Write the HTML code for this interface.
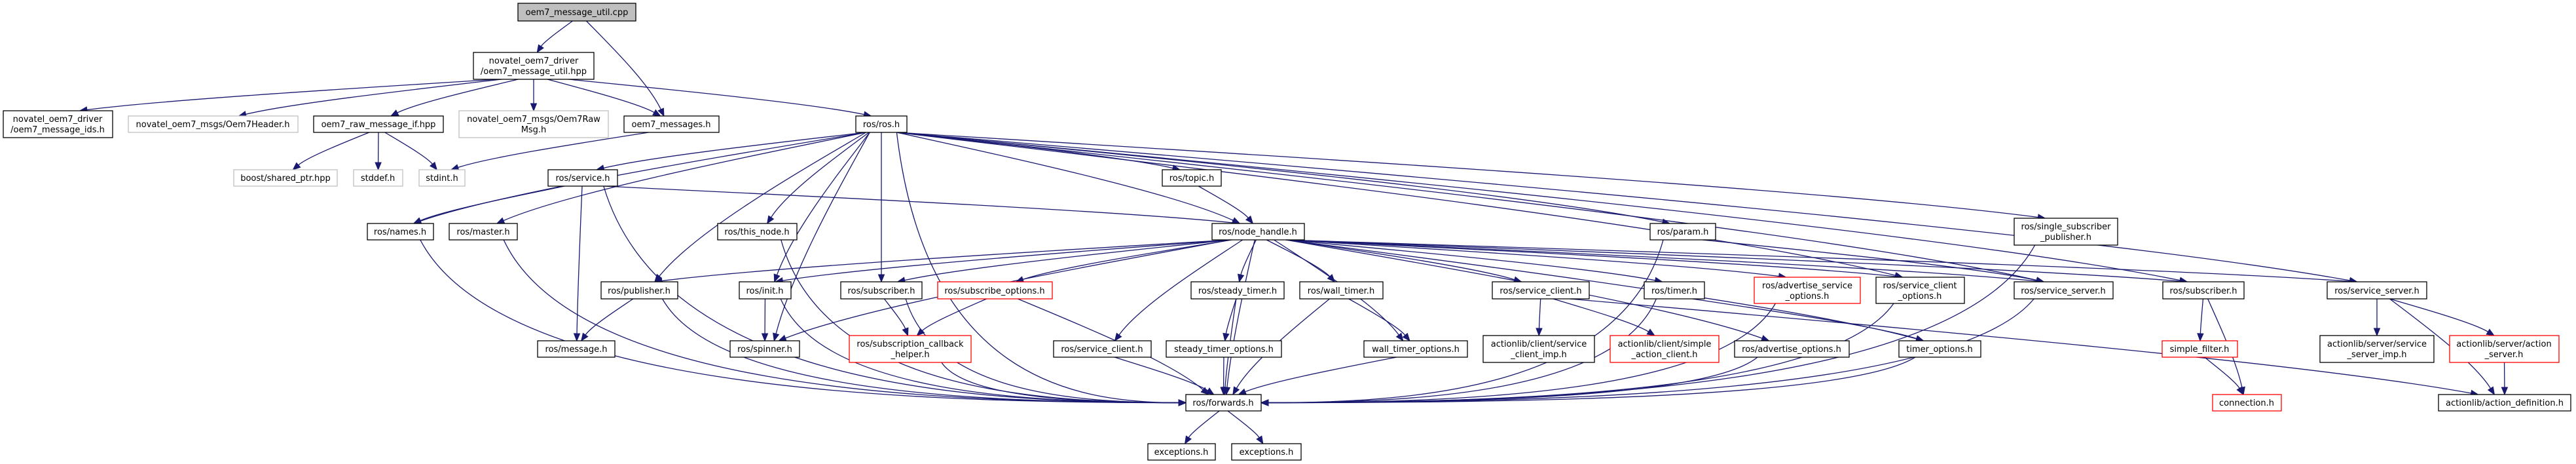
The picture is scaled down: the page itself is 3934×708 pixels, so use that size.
<!DOCTYPE html>
<html><head><meta charset="utf-8"><style>
html,body{margin:0;padding:0;background:#fff;}
svg{display:block}
text{font-family:"DejaVu Sans","Liberation Sans",sans-serif;font-size:13px;fill:#000;text-anchor:middle}
</style></head><body>
<svg id="g" xmlns="http://www.w3.org/2000/svg" width="3934" height="708" viewBox="0 0 3934 708">
<g id="edges" fill="none" stroke="#191970" stroke-width="1.3"></g>
<g id="arrows" fill="#191970" stroke="#191970"></g>
<g id="nodes" stroke-width="1.3">
<rect x="791" y="5" width="180" height="27" fill="#bfbfbf" stroke="#000"/><text x="881" y="23">oem7_message_util.cpp</text>
<rect x="723" y="80" width="184" height="41" fill="#fff" stroke="#000"/><text x="815" y="97">novatel_oem7_driver</text><text x="815" y="113">/oem7_message_util.hpp</text>
<rect x="5" y="169" width="167" height="41" fill="#fff" stroke="#000"/><text x="88" y="186">novatel_oem7_driver</text><text x="88" y="202">/oem7_message_ids.h</text>
<rect x="196" y="177" width="259" height="25" fill="#fff" stroke="#bfbfbf"/><text x="325" y="194">novatel_oem7_msgs/Oem7Header.h</text>
<rect x="479" y="177" width="198" height="25" fill="#fff" stroke="#000"/><text x="578" y="194">oem7_raw_message_if.hpp</text>
<rect x="701" y="169" width="228" height="41" fill="#fff" stroke="#bfbfbf"/><text x="815" y="186">novatel_oem7_msgs/Oem7Raw</text><text x="815" y="202">Msg.h</text>
<rect x="953" y="177" width="145" height="25" fill="#fff" stroke="#000"/><text x="1025" y="194">oem7_messages.h</text>
<rect x="1307" y="177" width="78" height="25" fill="#fff" stroke="#000"/><text x="1346" y="194">ros/ros.h</text>
<rect x="357" y="259" width="158" height="25" fill="#fff" stroke="#bfbfbf"/><text x="436" y="276">boost/shared_ptr.hpp</text>
<rect x="540" y="259" width="75" height="25" fill="#fff" stroke="#bfbfbf"/><text x="577" y="276">stddef.h</text>
<rect x="640" y="259" width="70" height="25" fill="#fff" stroke="#bfbfbf"/><text x="675" y="276">stdint.h</text>
<rect x="837" y="259" width="106" height="25" fill="#fff" stroke="#000"/><text x="890" y="276">ros/service.h</text>
<rect x="1775" y="259" width="90" height="25" fill="#fff" stroke="#000"/><text x="1820" y="276">ros/topic.h</text>
<rect x="561" y="341" width="101" height="25" fill="#fff" stroke="#000"/><text x="611" y="358">ros/names.h</text>
<rect x="686" y="341" width="104" height="25" fill="#fff" stroke="#000"/><text x="738" y="358">ros/master.h</text>
<rect x="1096" y="341" width="121" height="25" fill="#fff" stroke="#000"/><text x="1156" y="358">ros/this_node.h</text>
<rect x="1851" y="341" width="141" height="25" fill="#fff" stroke="#000"/><text x="1921" y="358">ros/node_handle.h</text>
<rect x="2520" y="341" width="100" height="25" fill="#fff" stroke="#000"/><text x="2570" y="358">ros/param.h</text>
<rect x="3076" y="333" width="158" height="41" fill="#fff" stroke="#000"/><text x="3155" y="350">ros/single_subscriber</text><text x="3155" y="366">_publisher.h</text>
<rect x="918" y="430" width="117" height="26" fill="#fff" stroke="#000"/><text x="976" y="448">ros/publisher.h</text>
<rect x="1129" y="430" width="79" height="26" fill="#fff" stroke="#000"/><text x="1168" y="448">ros/init.h</text>
<rect x="1284" y="430" width="124" height="26" fill="#fff" stroke="#000"/><text x="1346" y="448">ros/subscriber.h</text>
<rect x="1432" y="430" width="175" height="26" fill="#fff" stroke="#f00"/><text x="1519" y="448">ros/subscribe_options.h</text>
<rect x="1819" y="430" width="142" height="26" fill="#fff" stroke="#000"/><text x="1890" y="448">ros/steady_timer.h</text>
<rect x="1985" y="430" width="127" height="26" fill="#fff" stroke="#000"/><text x="2048" y="448">ros/wall_timer.h</text>
<rect x="2279" y="430" width="148" height="26" fill="#fff" stroke="#000"/><text x="2353" y="448">ros/service_client.h</text>
<rect x="2511" y="430" width="92" height="26" fill="#fff" stroke="#000"/><text x="2557" y="448">ros/timer.h</text>
<rect x="2679" y="423" width="162" height="40" fill="#fff" stroke="#f00"/><text x="2760" y="440">ros/advertise_service</text><text x="2760" y="456">_options.h</text>
<rect x="2865" y="423" width="135" height="40" fill="#fff" stroke="#000"/><text x="2932" y="440">ros/service_client</text><text x="2932" y="456">_options.h</text>
<rect x="3076" y="430" width="151" height="26" fill="#fff" stroke="#000"/><text x="3151" y="448">ros/service_server.h</text>
<rect x="3303" y="430" width="124" height="26" fill="#fff" stroke="#000"/><text x="3365" y="448">ros/subscriber.h</text>
<rect x="3554" y="430" width="152" height="26" fill="#fff" stroke="#000"/><text x="3630" y="448">ros/service_server.h</text>
<rect x="821" y="520" width="118" height="25" fill="#fff" stroke="#000"/><text x="880" y="537">ros/message.h</text>
<rect x="1115" y="520" width="106" height="25" fill="#fff" stroke="#000"/><text x="1168" y="537">ros/spinner.h</text>
<rect x="1297" y="512" width="186" height="41" fill="#fff" stroke="#f00"/><text x="1390" y="529">ros/subscription_callback</text><text x="1390" y="545">_helper.h</text>
<rect x="1609" y="520" width="149" height="25" fill="#fff" stroke="#000"/><text x="1683" y="537">ros/service_client.h</text>
<rect x="1781" y="520" width="176" height="25" fill="#fff" stroke="#000"/><text x="1869" y="537">steady_timer_options.h</text>
<rect x="2083" y="520" width="158" height="25" fill="#fff" stroke="#000"/><text x="2162" y="537">wall_timer_options.h</text>
<rect x="2265" y="512" width="170" height="41" fill="#fff" stroke="#000"/><text x="2350" y="529">actionlib/client/service</text><text x="2350" y="545">_client_imp.h</text>
<rect x="2459" y="512" width="166" height="41" fill="#fff" stroke="#f00"/><text x="2542" y="529">actionlib/client/simple</text><text x="2542" y="545">_action_client.h</text>
<rect x="2649" y="520" width="175" height="25" fill="#fff" stroke="#000"/><text x="2736" y="537">ros/advertise_options.h</text>
<rect x="2900" y="520" width="125" height="25" fill="#fff" stroke="#000"/><text x="2962" y="537">timer_options.h</text>
<rect x="3302" y="520" width="115" height="25" fill="#fff" stroke="#f00"/><text x="3359" y="537">simple_filter.h</text>
<rect x="3543" y="512" width="174" height="41" fill="#fff" stroke="#000"/><text x="3630" y="529">actionlib/server/service</text><text x="3630" y="545">_server_imp.h</text>
<rect x="3741" y="512" width="167" height="41" fill="#fff" stroke="#f00"/><text x="3824" y="529">actionlib/server/action</text><text x="3824" y="545">_server.h</text>
<rect x="1811" y="602" width="115" height="25" fill="#fff" stroke="#000"/><text x="1868" y="619">ros/forwards.h</text>
<rect x="3379" y="602" width="105" height="25" fill="#fff" stroke="#f00"/><text x="3431" y="619">connection.h</text>
<rect x="3724" y="602" width="202" height="25" fill="#fff" stroke="#000"/><text x="3825" y="619">actionlib/action_definition.h</text>
<rect x="1753" y="677" width="103" height="25" fill="#fff" stroke="#000"/><text x="1804" y="694">exceptions.h</text>
<rect x="1881" y="677" width="106" height="25" fill="#fff" stroke="#000"/><text x="1934" y="694">exceptions.h</text>
</g>
</svg>
<script>
var N={root:[791,5,971,32],hpp:[723,80,907,121],ids:[5,169,172,210],hdr:[196,177,455,202],raw:[479,177,677,202],rawmsg:[701,169,929,210],msgs:[953,177,1098,202],ros:[1307,177,1385,202],boost:[357,259,515,284],stddef:[540,259,615,284],stdint:[640,259,710,284],service:[837,259,943,284],topic:[1775,259,1865,284],names:[561,341,662,366],master:[686,341,790,366],thisnode:[1096,341,1217,366],nh:[1851,341,1992,366],param:[2520,341,2620,366],ssp:[3076,333,3234,374],pub:[918,430,1035,456],init:[1129,430,1208,456],sub:[1284,430,1408,456],subopt:[1432,430,1607,456],steady:[1819,430,1961,456],wall:[1985,430,2112,456],sc5:[2279,430,2427,456],timer:[2511,430,2603,456],aso:[2679,423,2841,463],sco:[2865,423,3000,463],ss1:[3076,430,3227,456],sub2:[3303,430,3427,456],ss2:[3554,430,3706,456],msg:[821,520,939,545],spin:[1115,520,1221,545],sch:[1297,512,1483,553],sc6:[1609,520,1758,545],sto:[1781,520,1957,545],wto:[2083,520,2241,545],sci:[2265,512,2435,553],sac:[2459,512,2625,553],ado:[2649,520,2824,545],tio:[2900,520,3025,545],sf:[3302,520,3417,545],ssi:[3543,512,3717,553],as:[3741,512,3908,553],fwd:[1811,602,1926,627],conn:[3379,602,3484,627],ad:[3724,602,3926,627],ex1:[1753,677,1856,702],ex2:[1881,677,1987,702]};
var E=[["root","hpp"],["root","msgs"],["hpp","ids"],["hpp","hdr"],["hpp","raw"],["hpp","rawmsg"],["hpp","msgs"],["hpp","ros"],["raw","boost"],["raw","stddef"],["raw","stdint"],["msgs","stdint"],
["ros","service"],["ros","names"],["ros","master"],["ros","thisnode"],["ros","pub"],["ros","init"],["ros","sub"],["ros","spin"],["ros","topic"],["ros","nh"],["ros","param"],["ros","ssp"],["ros","sub2"],["ros","ss2"],["ros","ss1"],["ros","fwd"],["ros","sco"],
["service","names"],["service","nh"],["service","msg"],["service","fwd"],["names","fwd"],["master","fwd"],["thisnode","fwd"],["topic","nh"],
["nh","pub"],["nh","init"],["nh","spin"],["nh","sub"],["nh","subopt"],["nh","sc6"],["nh","steady"],["nh","wall"],["nh","wto"],["nh","sc5"],["nh","timer"],["nh","aso"],["nh","sco"],["nh","ss1"],["nh","sub2"],["nh","ss2"],["nh","ado"],["nh","tio"],["nh","fwd"],
["pub","msg"],["pub","fwd"],["init","spin"],["init","fwd"],["sub","sch"],["sub","fwd"],["subopt","sch"],["subopt","fwd"],["sch","fwd"],["steady","sto"],["steady","fwd"],["sto","fwd"],["sc6","fwd"],["wall","wto"],["wall","fwd"],["wto","fwd"],
["sc5","sci"],["sc5","sac"],["sc5","ad"],["timer","tio"],["timer","fwd"],["ado","fwd"],["tio","fwd"],["aso","fwd"],["sco","fwd"],["ss1","fwd"],["ssp","fwd"],["param","fwd"],["param","ss1"],
["sub2","sf"],["sub2","conn"],["sf","conn"],["ss2","ssi"],["ss2","as"],["ss2","ad"],["as","ad"],["fwd","ex1"],["fwd","ex2"]];
var eg=document.getElementById("edges"),ag=document.getElementById("arrows"),ns="http://www.w3.org/2000/svg";
E.forEach(function(e){
 var s=N[e[0]],t=N[e[1]];
 var scx=(s[0]+s[2])/2,tcx=(t[0]+t[2])/2;
 var hw=(s[2]-s[0])/2,thw=(t[2]-t[0])/2;
 var sx=scx+Math.max(-0.6*hw,Math.min(0.6*hw,(tcx-scx)*0.1)),sy=s[3];
 var ex,ey,c1x,c1y,c2x,c2y;
 if(e[1]=="fwd"&&Math.abs(tcx-scx)>350){
  ey=(t[1]+t[3])/2+(tcx>scx?0:0);
  ex=tcx>scx?t[0]:t[2];
  c1x=sx+(ex-sx)*0.1;c1y=sy+(ey-sy)*0.9;
  c2x=ex-(ex-sx)*0.4;c2y=ey;
 } else {
  var dy=t[1]-sy;
  ex=tcx+Math.max(-0.4*thw,Math.min(0.4*thw,(scx-tcx)*0.08));ey=t[1];
  c1x=sx+(ex-sx)*0.3;c1y=sy+dy*0.25;
  c2x=ex-(ex-sx)*0.2;c2y=ey-dy*0.35;
 }
 var a=Math.atan2(ey-c2y,ex-c2x),L=11,W=4.5;
 var bx=ex-L*Math.cos(a),by=ey-L*Math.sin(a);
 var p=document.createElementNS(ns,"path");
 p.setAttribute("d","M"+sx+","+sy+" C"+c1x+","+c1y+" "+c2x+","+c2y+" "+bx+","+by);
 eg.appendChild(p);
 var q=document.createElementNS(ns,"polygon");
 q.setAttribute("points",ex+","+ey+" "+(bx+W*Math.sin(a))+","+(by-W*Math.cos(a))+" "+(bx-W*Math.sin(a))+","+(by+W*Math.cos(a)));
 ag.appendChild(q);
});
</script>
</body></html>
